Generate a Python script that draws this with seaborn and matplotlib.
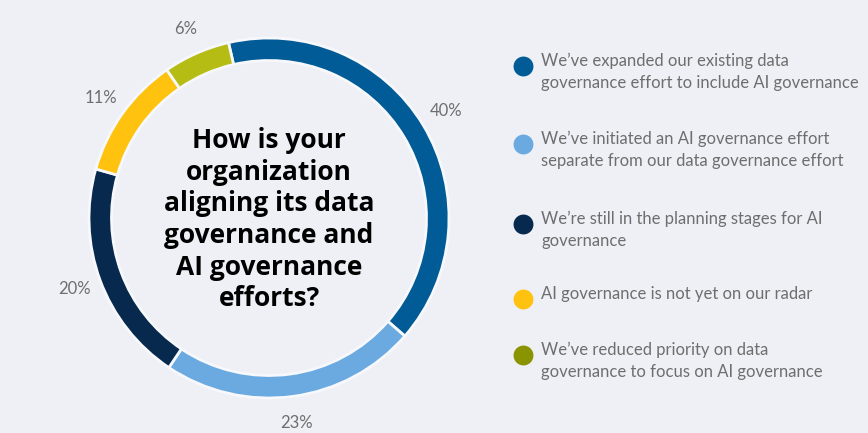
"""Donut chart: how organizations align data governance and AI governance."""

import matplotlib.pyplot as plt
import seaborn as sns

# ---- data ----
categories = [
    "We\u2019ve expanded our existing data\ngovernance effort to include AI governance",
    "We\u2019ve initiated an AI governance effort\nseparate from our data governance effort",
    "We\u2019re still in the planning stages for AI\ngovernance",
    "AI governance is not yet on our radar",
    "We\u2019ve reduced priority on data\ngovernance to focus on AI governance",
]
shares = [40, 23, 20, 11, 6]
pct_labels = ["40%", "23%", "20%", "11%", "6%"]
ring_colors = ["#005B96", "#6AAAE0", "#06294D", "#FFC20E", "#B5BD14"]
legend_colors = ["#005B96", "#6AAAE0", "#06294D", "#FFC20E", "#8A9300"]
question = "How is your\norganization\naligning its data\ngovernance and\nAI governance\nefforts?"

BG = "#EFF0F6"
TEXT_GREY = "#6E6E6E"

sns.set_theme(style="white")
plt.rcParams["font.family"] = ["Lato", "DejaVu Sans"]


def main() -> None:
    fig = plt.figure(figsize=(8.68, 4.33), dpi=100, facecolor=BG)

    # square axes (in pixels) centred on the donut
    cx, cy, half = 269, 433 - 218, 234
    ax = fig.add_axes([(cx - half) / 868, (cy - half) / 433, 2 * half / 868, 2 * half / 433])
    ax.set_facecolor(BG)

    wedges, texts = ax.pie(
        shares,
        colors=ring_colors,
        labels=pct_labels,
        labeldistance=1.15,
        startangle=103,
        counterclock=False,
        radius=1.0,
        wedgeprops=dict(width=0.125, edgecolor="#F7F8FB", linewidth=2),
        textprops=dict(color=TEXT_GREY, fontsize=12),
    )
    for t in texts:
        t.set_horizontalalignment("center")
        t.set_verticalalignment("center")
    ax.set_xlim(-1.3, 1.3)
    ax.set_ylim(-1.3, 1.3)
    ax.axis("off")

    ax.text(0, -0.01, question, ha="center", va="center", fontsize=19,
            fontweight="bold", color="#000000", linespacing=1.22,
            family=["Open Sans", "DejaVu Sans"])

    # legend drawn as dots + wrapped text on a pixel-space overlay
    lax = fig.add_axes([0, 0, 1, 1], facecolor="none")
    lax.set_xlim(0, 868)
    lax.set_ylim(433, 0)
    lax.axis("off")
    legend_y = [66, 144, 224, 299, 355]
    for label, color, y in zip(categories, legend_colors, legend_y):
        lax.scatter([523], [y], s=205, color=color, linewidths=0)
        lax.text(541, y - 13, label, ha="left", va="top",
                 fontsize=12, color=TEXT_GREY, linespacing=1.45)

    fig.savefig("out.png", dpi=100, facecolor=BG)
    plt.close(fig)


if __name__ == "__main__":
    main()
